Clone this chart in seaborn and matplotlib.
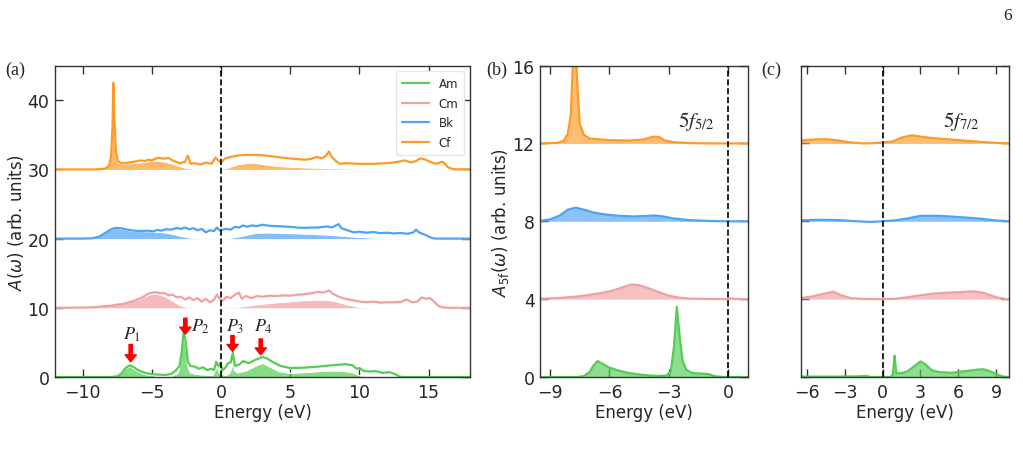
import numpy as np
import pandas as pd
import matplotlib
matplotlib.use("Agg")
import matplotlib.pyplot as plt
import seaborn as sns

# estilo
sns.set_theme(style="ticks")
plt.rcParams["font.family"] = ["DejaVu Sans"]
plt.rcParams["axes.edgecolor"] = "0.2"
plt.rcParams["axes.linewidth"] = 1.0

# ---------------- dados (energia em eV, A(w) sem deslocamento) ----------------
elements = ["Am", "Cm", "Bk", "Cf"]
colors = {"Am": "#55cc55", "Cm": "#f0a0a0", "Bk": "#4da3f5", "Cf": "#ff9a26"}
offsets_a = [0, 10, 20, 30]
offsets_f = [0, 4, 8, 12]

# painel (a): espectro total
am_total = [(-12, 0), (-8, 0), (-7.5, 0.1), (-7.2, 0.5), (-6.9, 1.3), (-6.6, 1.7), (-6.3, 1.4),
            (-6.0, 1.0), (-5.5, 0.6), (-5.0, 0.4), (-4.5, 0.35), (-4.0, 0.3), (-3.6, 0.45),
            (-3.3, 0.9), (-3.0, 1.6), (-2.85, 3.5), (-2.7, 6.6), (-2.55, 5.0), (-2.4, 2.2),
            (-2.2, 1.6), (-1.9, 1.5), (-1.6, 1.2), (-1.3, 1.4), (-1.0, 1.0), (-0.7, 1.2),
            (-0.5, 1.0), (-0.35, 2.2), (-0.2, 1.6), (-0.05, 2.0), (0.1, 1.0), (0.3, 1.3),
            (0.5, 2.0), (0.7, 2.1), (0.85, 3.5), (1.0, 1.6), (1.3, 1.8), (1.6, 2.3), (2.0, 2.0),
            (2.5, 2.5), (3.0, 2.9), (3.3, 2.7), (3.8, 2.1), (4.3, 1.6), (5.0, 1.3), (6.0, 1.35),
            (7.0, 1.5), (8.0, 1.7), (9.0, 1.85), (9.5, 1.7), (9.8, 1.2), (10.0, 1.3), (10.3, 0.9),
            (10.7, 0.8), (11.2, 0.85), (11.7, 0.6), (12.2, 0.7), (12.6, 0.4), (12.9, 0.05),
            (13.2, 0), (18, 0)]
cm_total = [(-12, 0), (-10, 0.03), (-9, 0.1), (-8, 0.3), (-7, 0.6), (-6.3, 1.0), (-5.7, 1.5),
            (-5.3, 2.0), (-5.0, 2.2), (-4.7, 2.25), (-4.4, 2.1), (-4.1, 2.15), (-3.8, 1.8),
            (-3.5, 1.9), (-3.2, 1.5), (-2.9, 1.6), (-2.6, 1.2), (-2.3, 1.5), (-2.0, 1.1),
            (-1.7, 1.4), (-1.4, 0.9), (-1.1, 1.3), (-0.8, 0.8), (-0.5, 1.2), (-0.3, 1.9),
            (-0.1, 1.3), (0.1, 1.0), (0.4, 1.6), (0.7, 1.4), (1.0, 1.9), (1.3, 2.2), (1.5, 1.3),
            (1.8, 1.7), (2.2, 1.4), (2.6, 1.7), (3.0, 1.6), (3.5, 1.75), (4.0, 1.7), (4.5, 1.8),
            (5.0, 1.75), (5.5, 1.9), (6.0, 1.95), (6.5, 2.1), (7.0, 2.3), (7.4, 2.2), (7.8, 2.5),
            (8.1, 2.0), (8.5, 1.6), (9.0, 1.3), (9.5, 1.1), (10.0, 0.9), (10.5, 0.8), (11.0, 0.9),
            (11.5, 0.75), (12.0, 0.8), (12.5, 0.8), (13.0, 0.85), (13.4, 1.2), (13.8, 0.8),
            (14.2, 0.9), (14.5, 1.5), (14.8, 1.3), (15.1, 1.4), (15.4, 0.9), (15.7, 0.3),
            (16.0, 0.05), (16.5, 0), (18, 0)]
bk_total = [(-12, 0), (-10, 0), (-9.3, 0.05), (-8.8, 0.3), (-8.3, 0.9), (-7.9, 1.4), (-7.6, 1.55),
            (-7.2, 1.5), (-6.8, 1.3), (-6.3, 1.15), (-5.8, 1.1), (-5.3, 1.15), (-4.9, 1.05),
            (-4.6, 1.25), (-4.3, 1.15), (-4.0, 1.35), (-3.6, 1.3), (-3.2, 1.55), (-2.9, 1.4),
            (-2.6, 1.6), (-2.3, 1.35), (-2.0, 1.5), (-1.7, 1.2), (-1.4, 1.4), (-1.1, 0.9),
            (-0.8, 1.2), (-0.5, 1.1), (-0.3, 1.6), (-0.1, 1.2), (0.1, 1.3), (0.4, 1.4), (0.7, 1.3),
            (1.0, 1.7), (1.3, 1.6), (1.6, 1.9), (1.9, 1.7), (2.2, 1.9), (2.6, 1.8), (3.0, 2.0),
            (3.5, 1.85), (4.0, 1.8), (4.5, 1.75), (5.0, 1.7), (5.5, 1.6), (6.0, 1.55), (6.5, 1.6),
            (7.0, 1.6), (7.4, 1.7), (7.7, 1.75), (8.0, 1.6), (8.3, 1.9), (8.5, 2.1), (8.7, 1.5),
            (9.0, 1.3), (9.3, 1.1), (9.6, 0.9), (10.0, 1.0), (10.5, 0.85), (11.0, 0.95),
            (11.5, 0.8), (12.0, 0.85), (12.5, 0.75), (13.0, 0.8), (13.5, 0.7), (13.9, 0.9),
            (14.1, 1.3), (14.3, 0.9), (14.7, 0.6), (15.0, 0.3), (15.3, 0.05), (15.6, 0), (18, 0)]
cf_total = [(-12, 0), (-9, 0), (-8.4, 0.1), (-8.1, 0.5), (-7.95, 1.8), (-7.85, 6.0), (-7.78, 12.5),
            (-7.7, 7.0), (-7.6, 2.5), (-7.45, 1.2), (-7.2, 0.9), (-6.8, 0.95), (-6.3, 1.1),
            (-5.8, 1.3), (-5.5, 1.2), (-5.3, 1.4), (-5.0, 1.3), (-4.8, 1.5), (-4.5, 1.7),
            (-4.2, 1.55), (-3.8, 1.65), (-3.5, 1.3), (-3.0, 0.9), (-2.6, 1.1), (-2.4, 2.0),
            (-2.2, 0.8), (-1.9, 0.9), (-1.5, 0.7), (-1.1, 1.0), (-0.7, 0.8), (-0.4, 1.7),
            (-0.2, 1.3), (0.0, 1.0), (0.3, 1.6), (0.7, 1.8), (1.2, 2.0), (1.8, 2.1), (2.5, 2.1),
            (3.2, 2.0), (4.0, 1.8), (4.8, 1.6), (5.5, 1.5), (6.0, 1.4), (6.5, 1.5), (6.9, 1.8),
            (7.3, 1.6), (7.6, 2.0), (7.8, 2.6), (8.0, 1.8), (8.3, 1.2), (8.6, 0.8), (9.0, 0.9),
            (10.0, 0.8), (11.0, 0.8), (12.0, 0.9), (12.8, 1.1), (13.3, 1.3), (13.7, 1.0),
            (14.1, 1.2), (14.4, 1.6), (14.8, 1.4), (15.2, 1.0), (15.6, 0.8), (15.9, 1.1),
            (16.1, 1.0), (16.4, 0.3), (16.8, 0.02), (18, 0)]

# painel (a): parte 5f (preenchida)
am_5f = [(-12, 0), (-8, 0), (-7.5, 0.1), (-7.2, 0.5), (-6.9, 1.2), (-6.6, 1.55), (-6.3, 1.2),
         (-6.0, 0.8), (-5.5, 0.4), (-5.0, 0.2), (-4.5, 0.1), (-4.0, 0.08), (-3.5, 0.15),
         (-3.1, 0.6), (-2.9, 2.5), (-2.7, 6.3), (-2.55, 4.5), (-2.4, 1.5), (-2.2, 0.6),
         (-1.8, 0.4), (-1.2, 0.3), (-0.6, 0.25), (-0.3, 1.5), (-0.1, 0.6), (0.3, 0.2),
         (0.6, 0.5), (0.8, 1.5), (0.85, 3.3), (0.95, 1.0), (1.2, 0.6), (1.8, 0.9), (2.5, 1.6),
         (3.0, 2.0), (3.5, 1.5), (4.2, 0.8), (5.0, 0.55), (6, 0.65), (7, 0.8), (8, 0.9),
         (9, 0.8), (9.6, 0.6), (10, 0.2), (10.5, 0.05), (11, 0), (18, 0)]
cm_5f = [(-12, 0), (-10, 0.02), (-9, 0.1), (-8, 0.3), (-7, 0.6), (-6.2, 1.0), (-5.5, 1.6),
         (-5.0, 2.0), (-4.6, 2.0), (-4.0, 1.6), (-3.5, 1.0), (-3.0, 0.4), (-2.5, 0.1),
         (-2.0, 0.02), (0, 0), (1, 0.05), (2, 0.3), (3, 0.55), (4, 0.75), (5, 0.9), (6, 1.05),
         (7, 1.15), (7.8, 1.1), (8.5, 0.8), (9.2, 0.4), (10, 0.1), (11, 0), (18, 0)]
bk_5f = [(-12, 0), (-10, 0), (-9.3, 0.05), (-8.8, 0.3), (-8.3, 0.9), (-7.9, 1.35), (-7.6, 1.5),
         (-7.2, 1.4), (-6.6, 1.15), (-6, 1.05), (-5, 1.0), (-4.2, 0.9), (-3.5, 0.65),
         (-2.8, 0.3), (-2.2, 0.1), (-1.5, 0.02), (0, 0), (0.8, 0.1), (1.5, 0.35), (2.5, 0.8),
         (3.5, 0.85), (5, 0.75), (6.5, 0.65), (8, 0.5), (9.5, 0.25), (11, 0.1), (12.5, 0.02),
         (14, 0), (18, 0)]
cf_5f = [(-12, 0), (-9, 0), (-8.4, 0.1), (-8.1, 0.5), (-7.95, 1.8), (-7.85, 6.0), (-7.78, 12.3),
         (-7.7, 6.8), (-7.6, 2.3), (-7.45, 1.0), (-7.2, 0.8), (-6.5, 0.85), (-5.5, 1.05),
         (-4.8, 1.2), (-4.2, 1.15), (-3.6, 0.85), (-3.0, 0.45), (-2.5, 0.15), (-2.0, 0.05),
         (-1, 0.02), (0, 0.05), (0.5, 0.2), (1.2, 0.7), (2.0, 0.9), (2.7, 0.85), (3.5, 0.6),
         (4.5, 0.4), (6.0, 0.25), (8.0, 0.12), (10, 0.05), (12, 0.0), (18, 0)]

# painel (b): 5f_5/2
am_52 = [(-9.5, 0), (-7.6, 0), (-7.3, 0.05), (-7.0, 0.25), (-6.8, 0.6), (-6.6, 0.82), (-6.3, 0.65),
         (-6.0, 0.48), (-5.5, 0.32), (-5.0, 0.2), (-4.5, 0.13), (-4.0, 0.08), (-3.5, 0.05),
         (-3.1, 0.08), (-2.9, 0.3), (-2.75, 1.5), (-2.6, 3.6), (-2.45, 2.0), (-2.3, 0.8),
         (-2.1, 0.35), (-1.8, 0.2), (-1.4, 0.18), (-1.0, 0.15), (-0.7, 0.05), (-0.3, 0.0), (1, 0)]
cm_52 = [(-9.5, 0.02), (-8.5, 0.06), (-7.5, 0.15), (-6.5, 0.3), (-5.8, 0.45), (-5.3, 0.62),
         (-4.9, 0.75), (-4.5, 0.72), (-4.0, 0.55), (-3.5, 0.35), (-3.0, 0.18), (-2.5, 0.08),
         (-2.0, 0.03), (-1, 0.01), (0, 0.0), (0.1, 0.05), (0.3, 0.01), (1, 0)]
bk_52 = [(-9.5, 0.02), (-9.0, 0.1), (-8.5, 0.3), (-8.1, 0.6), (-7.7, 0.7), (-7.3, 0.6), (-6.8, 0.45),
         (-6.2, 0.35), (-5.5, 0.28), (-4.8, 0.25), (-4.2, 0.27), (-3.7, 0.3), (-3.3, 0.25),
         (-2.8, 0.15), (-2.0, 0.06), (-1.0, 0.02), (0, 0.0), (1, 0)]
cf_52 = [(-9.5, 0), (-8.6, 0.03), (-8.3, 0.15), (-8.1, 0.5), (-7.95, 1.5), (-7.85, 4.0),
         (-7.75, 7.0), (-7.65, 3.5), (-7.5, 1.0), (-7.3, 0.45), (-7.0, 0.25), (-6.0, 0.17),
         (-5.0, 0.15), (-4.3, 0.2), (-3.8, 0.35), (-3.5, 0.33), (-3.2, 0.15), (-2.7, 0.06),
         (-2.0, 0.02), (-1, 0), (1, 0)]

# painel (c): 5f_7/2
am_72 = [(-6.5, 0.02), (-4, 0.02), (-2, 0.03), (-1.3, 0.06), (-1.0, 0.0), (0.6, 0), (0.8, 0.1),
         (0.88, 0.6), (0.95, 1.1), (1.02, 0.6), (1.1, 0.2), (1.5, 0.2), (2.0, 0.3), (2.5, 0.55),
         (3.0, 0.8), (3.4, 0.65), (3.9, 0.35), (4.5, 0.25), (5.5, 0.22), (6.5, 0.3), (7.5, 0.38),
         (8.0, 0.4), (8.5, 0.3), (9.0, 0.15), (9.5, 0.03), (10, 0)]
cm_72 = [(-6.5, 0.05), (-5.5, 0.15), (-4.5, 0.3), (-3.9, 0.38), (-3.3, 0.2), (-2.5, 0.05),
         (-1.5, 0.01), (0, 0.0), (1, 0.02), (2, 0.1), (3, 0.2), (4, 0.28), (5, 0.33), (6, 0.36),
         (7.2, 0.4), (8, 0.33), (9, 0.1), (9.8, 0.0), (10, 0)]
bk_72 = [(-6.5, 0.05), (-5, 0.08), (-3.5, 0.06), (-2, 0.0), (-1, -0.03), (0, 0.0), (1, 0.05),
         (2, 0.15), (3, 0.28), (4.5, 0.28), (6, 0.22), (7.5, 0.15), (9, 0.04), (10, 0)]
cf_72 = [(-6.5, 0.15), (-5.5, 0.2), (-4.5, 0.22), (-3.5, 0.15), (-2.5, 0.05), (-1.5, 0.0),
         (-0.5, 0.02), (0, 0.05), (0.8, 0.1), (1.5, 0.3), (2.3, 0.42), (3.0, 0.35), (4, 0.27),
         (5, 0.22), (6, 0.17), (7, 0.12), (8, 0.07), (9, 0.03), (10, 0)]

total_a = [am_total, cm_total, bk_total, cf_total]
fill_a = [am_5f, cm_5f, bk_5f, cf_5f]
data_b = [am_52, cm_52, bk_52, cf_52]
data_c = [am_72, cm_72, bk_72, cf_72]

# picos marcados em (a): rotulo, energia, topo da seta, ponta, posicao do texto
peak_labels = ["$P_1$", "$P_2$", "$P_3$", "$P_4$"]
peak_x = [-6.53, -2.58, 0.83, 2.87]
arrow_top = [4.7, 8.5, 6.0, 5.5]
arrow_tip = [2.2, 6.2, 3.7, 3.2]
label_xy = [(-6.46, 6.3), (-1.5, 7.4), (1.0, 7.4), (3.04, 7.4)]


def to_df(pts, off):
    df = pd.DataFrame(pts, columns=["E", "A"])
    df["A"] = df["A"] + off
    return df


def draw_curve(ax, pts, off, color, label=None, fill_pts=None):
    df = to_df(pts, off)
    if fill_pts is None:
        ax.fill_between(df["E"], off, df["A"], color=color, alpha=0.65, lw=0)
    else:
        fdf = to_df(fill_pts, off)
        ax.fill_between(fdf["E"], off, fdf["A"], color=color, alpha=0.7, lw=0)
        ax.plot(fdf["E"], fdf["A"], color="white", lw=1.0)
    sns.lineplot(data=df, x="E", y="A", color=color, lw=1.6, ax=ax,
                 label=label, errorbar=None, sort=False)


def style_axes(ax):
    ax.tick_params(direction="in", top=True, right=True, length=6, width=1.0,
                   color="0.2", labelsize=12.5, pad=4)
    ax.axvline(0, color="black", ls="--", lw=1.2, zorder=5)
    ax.set_xlabel("Energy (eV)", fontsize=12, labelpad=2)


fig = plt.figure(figsize=(10.23, 4.56), dpi=100)
ax_a = fig.add_axes([0.0538, 0.171, 0.4057, 0.683])
ax_b = fig.add_axes([0.528, 0.171, 0.2033, 0.683])
ax_c = fig.add_axes([0.7827, 0.171, 0.2033, 0.683])

# (a)
for el, pts, fpts, off in zip(elements, total_a, fill_a, offsets_a):
    draw_curve(ax_a, pts, off, colors[el], label=el, fill_pts=fpts)
ax_a.set_xlim(-12, 18)
ax_a.set_ylim(0, 45)
ax_a.set_xticks([-10, -5, 0, 5, 10, 15])
ax_a.set_yticks([0, 10, 20, 30, 40])
style_axes(ax_a)
ax_a.set_ylabel(r"$A(\omega)$ (arb. units)", fontsize=12, labelpad=1)
ax_a.legend(loc="upper right", fontsize=8.5, handlelength=2.3, labelspacing=0.55,
            borderpad=0.5, framealpha=1.0, edgecolor="0.9")
for lab, px, top, tip, (tx, ty) in zip(peak_labels, peak_x, arrow_top, arrow_tip, label_xy):
    ax_a.annotate("", xy=(px, tip), xytext=(px, top),
                  arrowprops=dict(facecolor="red", edgecolor="red", width=2.4,
                                  headwidth=8, headlength=5), zorder=6)
    ax_a.text(tx, ty, lab, ha="center", va="center", fontsize=13, math_fontfamily="stix")

# (b)
for el, pts, off in zip(elements, data_b, offsets_f):
    draw_curve(ax_b, pts, off, colors[el])
ax_b.set_xlim(-9.5, 1)
ax_b.set_ylim(0, 16)
ax_b.set_xticks([-9, -6, -3, 0])
ax_b.set_yticks([0, 4, 8, 12, 16])
style_axes(ax_b)
ax_b.set_ylabel(r"$A_{\rm 5f}(\omega)$ (arb. units)", fontsize=12, labelpad=1)
ax_b.text(-2.55, 13.2, r"$5f_{5/2}$", fontsize=15, va="center", ha="left",
          math_fontfamily="stix")

# (c)
for el, pts, off in zip(elements, data_c, offsets_f):
    draw_curve(ax_c, pts, off, colors[el])
ax_c.set_xlim(-6.5, 10)
ax_c.set_ylim(0, 16)
ax_c.set_xticks([-6, -3, 0, 3, 6, 9])
ax_c.set_yticks([0, 4, 8, 12, 16])
ax_c.set_yticklabels([])
style_axes(ax_c)
ax_c.set_ylabel("")
ax_c.text(4.75, 13.2, r"$5f_{7/2}$", fontsize=15, va="center", ha="left",
          math_fontfamily="stix")

# rotulos dos paineis e numero da pagina
serif = ["Liberation Serif", "DejaVu Serif"]
fig.text(0.005, 0.845, "(a)", fontsize=13, family=serif, va="center")
fig.text(0.475, 0.845, "(b)", fontsize=13, family=serif, va="center")
fig.text(0.744, 0.845, "(c)", fontsize=13, family=serif, va="center")
fig.text(0.981, 0.965, "6", fontsize=12.5, family=serif, va="center")

fig.savefig("out.png", dpi=100)
